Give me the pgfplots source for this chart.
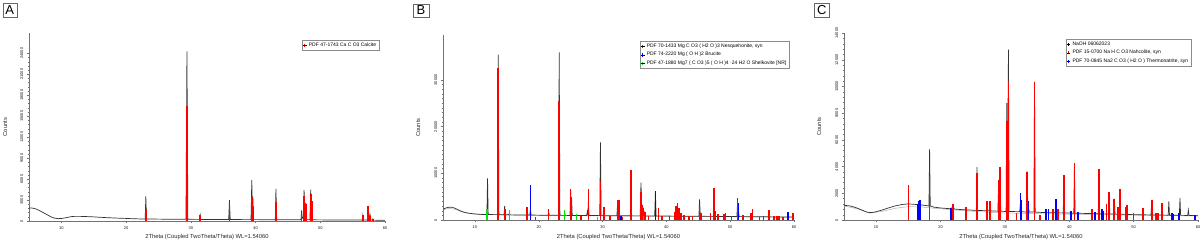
\documentclass[border=0pt]{standalone}
\usepackage{fontspec}
\setmainfont{Liberation Sans}
\usepackage{pgfplots}
\pgfplotsset{compat=1.18}
\definecolor{xred}{RGB}{255,0,0}
\definecolor{xblue}{RGB}{0,0,255}
\definecolor{xgreen}{RGB}{0,230,0}
\pgfplotsset{
  xrdaxis/.style={
    scale only axis,
    axis x line*=bottom, axis y line*=left,
    axis line style={draw=black!55, line width=0.4pt},
    xmin=5, xmax=60, ymin=0,
    xtick={10,20,...,60},
    minor x tick num=9,
    scaled ticks=false,
    tick style={black!55, line width=0.3pt},
    major tick length=2.2pt, minor tick length=1.2pt,
    tick align=outside,
    ticklabel style={font=\fontsize{4}{4.2}\selectfont, text=black!90},
    /pgf/number format/1000 sep={},
    /pgf/number format/assume math mode=true,
    yticklabel style={rotate=90, anchor=south},
    xlabel={2Theta (Coupled TwoTheta/Theta) WL=1.54060},
    ylabel={Counts},
    label style={font=\fontsize{5.8}{6}\selectfont, text=black!85},
    legend cell align=left,
    legend style={draw=black!45, fill=white, font=\fontsize{5}{5.8}\selectfont,
      inner sep=0.6pt, row sep=-0.6pt, anchor=north east},
  },
  prof/.style={black!80, line width=0.7pt, forget plot},
  bgline/.style={black!30, line width=0.5pt, forget plot},
  stick/.style={ycomb, line width=1.7pt, forget plot, no marks},
  limred/.style={legend image code/.code={\draw[xred,line width=1.3pt] (0pt,-1.7pt)--(0pt,1.7pt); \path (-1.5pt,0pt)--(2pt,0pt);}},
  limblue/.style={legend image code/.code={\draw[xblue,line width=1.3pt] (0pt,-1.7pt)--(0pt,1.7pt); \path (-1.5pt,0pt)--(2pt,0pt);}},
  limgreen/.style={legend image code/.code={\draw[xgreen,line width=1.3pt] (0pt,-1.7pt)--(0pt,1.7pt); \path (-1.5pt,0pt)--(2pt,0pt);}},
  limblack/.style={legend image code/.code={\draw[black,line width=1.3pt] (0pt,-1.7pt)--(0pt,1.7pt); \path (-1.5pt,0pt)--(2pt,0pt);}},
}
\begin{document}
\begin{tikzpicture}[x=1pt,y=1pt]
\useasboundingbox (0,0) rectangle (1200,242);
% ---------------- Panel A ----------------
\begin{axis}[xrdaxis, at={(29pt,21pt)}, anchor=south west,
  width=356pt, height=188pt, ymax=26900,
  ytick={0,3000,...,24000}, minor y tick num=4,
  ylabel style={at={(axis description cs:-0.067,0.5)}, anchor=center},
  xlabel style={at={(axis description cs:0.5,-0.085)}, anchor=center},
  legend style={at={(0.983,0.963)}}]
\addplot[prof] coordinates {(5,1870) (5.5,1850) (6,1750) (6.5,1550) (7,1300) (7.5,1050) (8,800) (8.5,550) (9,400) (9.5,340) (10,360) (10.5,430) (11,530) (11.5,620) (12,660) (13,660) (14,630) (15,590) (16,530) (17,480) (18,440) (19,400) (20,370) (21,330) (22,300) (22.95,290) (23.05,3540) (23.15,290) (24,280) (26,260) (28,240) (29.25,240) (29.4,24260) (29.55,260) (30,240) (31.35,230) (31.45,850) (31.55,230) (33,220) (35.85,210) (35.97,2970) (36.09,210) (38,200) (39.3,200) (39.42,5840) (39.5,2500) (39.58,3500) (39.7,200) (41,190) (43.05,190) (43.15,4590) (43.27,190) (45,180) (47.02,180) (47.12,1530) (47.22,400) (47.38,400) (47.5,4400) (47.6,1500) (47.75,2600) (47.85,180) (48.4,180) (48.52,4500) (48.6,2200) (48.68,2800) (48.8,170) (50,160) (52,150) (54,140) (56.47,130) (56.57,800) (56.67,130) (57.3,130) (57.42,2100) (57.54,300) (57.7,900) (57.8,130) (58,125) (58.1,300) (58.2,125) (60,110)};
\addplot[stick, xred] coordinates {(23.05,1770) (29.4,16460) (31.45,900) (35.97,2580) (39.42,3440) (39.58,2200) (43.15,2730) (47.12,1200) (47.5,3640) (47.75,2490) (48.52,3920) (48.68,2820) (56.57,810) (57.42,2100) (57.7,700) (58.1,240)};
\addlegendimage{limred}
\addlegendentry{PDF 47-1743 Ca C O3 Calcite}
\end{axis}
% ---------------- Panel B ----------------
\begin{axis}[xrdaxis, at={(443pt,22pt)}, anchor=south west,
  width=351pt, height=185pt, ymax=39600,
  ytick={0,10000,20000,30000}, minor y tick num=9,
  ylabel style={at={(axis description cs:-0.071,0.5)}, anchor=center},
  xlabel style={at={(axis description cs:0.5,-0.09)}, anchor=center},
  legend style={at={(0.986,0.968)}}]
\addplot[bgline] coordinates {(5,2200) (6,2500) (7,2250) (8,1700) (10,1250) (15,1050) (30,880) (60,600)};
\addplot[prof] coordinates {(5,2300) (5.5,2600) (6,2750) (6.5,2700) (7,2450) (7.5,2100) (8,1800) (8.5,1600) (9,1450) (10,1300) (11,1200) (11.88,1180) (11.98,8900) (12.08,1180) (13,1150) (13.56,1150) (13.66,35400) (13.76,1150) (14,1130) (14.56,1120) (14.66,3000) (14.76,1120) (15.3,1100) (15.4,1500) (15.5,1100) (17,1080) (18.1,1070) (18.2,2000) (18.3,1070) (18.6,1060) (18.7,2200) (18.8,1060) (20,1040) (21.45,1020) (21.55,1700) (21.65,1020) (22.5,1000) (23.1,1000) (23.21,35900) (23.32,1000) (24,990) (24.06,1500) (24.15,990) (24.9,980) (25.0,6400) (25.08,3000) (25.15,4800) (25.25,980) (26,970) (27.5,960) (27.62,1800) (27.7,1200) (27.78,4000) (27.88,960) (29.56,940) (29.67,16600) (29.78,940) (30.1,930) (30.2,2200) (30.3,930) (32.25,910) (32.35,3500) (32.45,2000) (32.56,3600) (32.66,910) (34.35,890) (34.45,5500) (34.55,890) (35.9,880) (36.02,8000) (36.14,2500) (36.25,3000) (36.4,2200) (36.6,1500) (36.7,870) (38.17,860) (38.28,6000) (38.4,860) (40,840) (41.6,830) (41.7,2200) (41.8,830) (44,800) (45.1,790) (45.2,4400) (45.3,1500) (45.4,790) (47.4,770) (47.47,3000) (47.55,770) (50,740) (51.05,730) (51.15,3500) (51.3,2000) (51.4,730) (53,710) (55,690) (56,680) (58,650) (60,620)};
\addplot[stick, xred] coordinates {(13.66,32500) (14.66,2300) (18.18,2800) (19.5,600) (21.54,2400) (23.21,25400) (25.0,6600) (25.15,5000) (26.6,800) (27.78,6600) (29.67,8400) (30.2,2700) (31.2,900) (32.35,4300) (32.56,4300) (33.1,700) (34.45,10700) (36.02,6100) (36.2,3200) (36.4,2500) (36.6,1800) (37.2,900) (38.75,2500) (39.3,800) (40.5,900) (41.3,1700) (41.55,3000) (41.75,3700) (41.95,2500) (42.3,1500) (42.8,1000) (43.5,900) (44.1,800) (45.2,2900) (45.4,1600) (46.9,1500) (47.47,6800) (47.7,2000) (48.1,1200) (49.0,1300) (49.25,1400) (50.2,900) (51.14,4800) (52.0,1000) (53.3,1600) (53.5,2400) (54.6,700) (55.2,800) (56.1,2100) (56.9,900) (57.3,900) (57.7,800) (58.3,700) (59.8,1600)};
\addplot[stick, xblue] coordinates {(18.7,7500) (32.9,900) (38.28,6300) (51.3,3600) (59.1,1800)};
\addplot[stick, xgreen] coordinates {(11.9,2300) (15.4,2100) (24.06,2100) (25.9,1200) (29.2,700) (36.4,800)};
\addlegendimage{limred}
\addlegendentry{PDF 70-1433 Mg C O3 ( H2 O )3 Nesquehonite, syn}
\addlegendimage{limblue}
\addlegendentry{PDF 74-2220 Mg ( O H )2 Brucite}
\addlegendimage{limgreen}
\addlegendentry{PDF 47-1880 Mg7 ( C O3 )5 ( O H )4 ·24 H2 O Shelkovite [NR]}
\end{axis}
% ---------------- Panel C ----------------
\begin{axis}[xrdaxis, at={(844pt,22pt)}, anchor=south west,
  width=354pt, height=187pt, ymax=14000,
  ytick={0,2000,...,14000}, minor y tick num=4,
  ylabel style={at={(axis description cs:-0.0706,0.5)}, anchor=center},
  xlabel style={at={(axis description cs:0.5,-0.089)}, anchor=center},
  legend style={at={(0.980,0.968)}}]
\addplot[bgline] coordinates {(5,1050) (7,850) (9,520) (11,650) (13,880) (15,1000) (17,980) (19,880) (21,800) (25,650) (30,520) (40,430) (50,360) (60,300)};
\addplot[prof] coordinates {(5,1100) (6,1050) (7,900) (8,700) (8.5,600) (9,560) (9.5,570) (10,620) (11,760) (12,920) (13,1060) (14,1160) (14.92,1200) (15.02,1250) (15.12,1200) (16,1170) (16.5,1150) (16.6,1300) (16.7,1150) (16.8,1350) (16.9,1140) (17,1130) (18.2,1050) (18.3,5300) (18.4,1050) (19,960) (20,900) (21.6,840) (21.7,900) (21.9,820) (22,1000) (22.1,820) (23.8,760) (23.9,850) (24,760) (25.56,720) (25.66,3950) (25.76,720) (27.2,690) (27.27,1000) (27.35,690) (27.6,680) (27.7,1000) (27.8,680) (28.9,660) (29.0,2200) (29.1,1500) (29.25,3900) (29.35,650) (30.18,640) (30.28,8750) (30.4,3000) (30.55,12750) (30.65,640) (32.3,620) (32.4,1200) (32.5,620) (33.35,600) (33.45,3650) (33.55,1200) (33.65,1000) (33.75,600) (34.5,590) (34.6,10350) (34.7,590) (36,560) (37.8,540) (37.9,1000) (38.0,540) (39.06,530) (39.16,3300) (39.26,530) (40.7,510) (40.8,4200) (40.9,510) (43.5,480) (44.5,470) (44.6,2600) (44.7,470) (46.1,450) (46.2,2000) (46.3,450) (46.9,440) (47.0,1600) (47.1,440) (47.78,430) (47.88,1300) (47.98,430) (50,400) (52.7,380) (52.8,1500) (52.9,380) (54.3,370) (54.4,800) (54.5,370) (55.37,360) (55.47,1400) (55.57,360) (57.1,350) (57.2,1650) (57.3,350) (58.4,340) (58.5,750) (58.6,340) (60,320)};
\addplot[stick, xred] coordinates {(15.02,2600) (18.3,3300) (21.9,1200) (23.9,1000) (25.66,3550) (27.27,1400) (27.7,1400) (29.0,3000) (29.25,4000) (30.28,7400) (30.55,10400) (31.8,500) (33.45,3600) (34.6,10300) (35.5,400) (37.45,800) (38.2,800) (39.16,3350) (40.8,4300) (43.58,800) (44.6,3800) (45.8,1200) (46.2,2100) (47.0,1550) (47.6,950) (47.88,2300) (48.77,1000) (48.97,1150) (50.0,500) (51.5,900) (52.8,1500) (53.5,500) (53.8,500) (54.4,1300)};
\addplot[stick, xblue] coordinates {(16.4,1200) (16.6,1400) (16.8,1500) (21.6,900) (32.4,2000) (32.5,1500) (33.65,1400) (36.35,800) (36.75,800) (37.9,1600) (40.3,700) (41.4,600) (44.0,600) (45.1,800) (45.3,700) (56.0,500) (56.2,450) (57.1,500) (59.5,400)};
\addlegendimage{limblack}
\addlegendentry{NaOH 06062023}
\addlegendimage{limred}
\addlegendentry{PDF 15-0700 Na H C O3 Nahcolite, syn}
\addlegendimage{limblue}
\addlegendentry{PDF 70-0845 Na2 C O3 ( H2 O ) Thermonatrite, syn}
\end{axis}
% panel letters
\node[draw=black!60, line width=0.4pt, fill=white, inner sep=0pt, minimum width=14pt, minimum height=13.5pt, font=\fontsize{13}{13}\selectfont] at (9.7,232) {A};
\node[draw=black!60, line width=0.4pt, fill=white, inner sep=0pt, minimum width=16pt, minimum height=13.5pt, font=\fontsize{13}{13}\selectfont] at (421,231.5) {B};
\node[draw=black!60, line width=0.4pt, fill=white, inner sep=0pt, minimum width=15pt, minimum height=13.5pt, font=\fontsize{13}{13}\selectfont] at (821.7,231.7) {C};
\end{tikzpicture}
\end{document}
